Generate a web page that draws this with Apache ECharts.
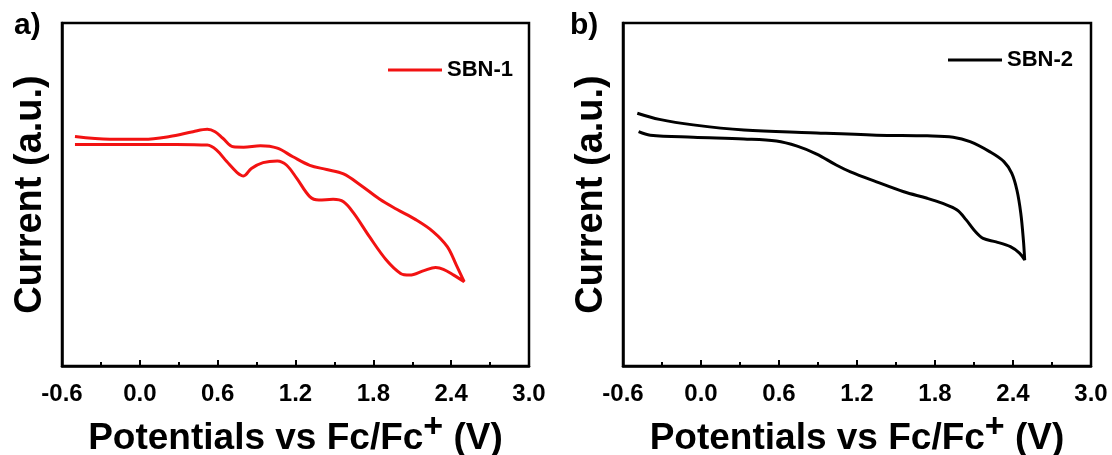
<!DOCTYPE html>
<html>
<head>
<meta charset="utf-8">
<script src="https://cdn.jsdelivr.net/npm/echarts@6/dist/echarts.min.js"></script>
<style>
  html, body { margin: 0; padding: 0; background: #fff; }
  #chart { width: 1112px; height: 455px; }
</style>
</head>
<body>
<div id="chart"></div>
<script>
// Cyclic voltammograms, potential (V vs Fc/Fc+) against current (arbitrary units)
const xTicks = ['-0.6', '0.0', '0.6', '1.2', '1.8', '2.4', '3.0'];
const seriesNames = ['SBN-1', 'SBN-2'];

// SBN-1: forward sweep then return sweep, as one closed trace
const sbn1Potential = [
  -0.50, -0.23, 0.03, 0.23, 0.41, 0.52, 0.58, 0.64, 0.72, 0.80, 0.93, 1.06,
  1.18, 1.31, 1.44, 1.57, 1.70, 1.85, 1.98, 2.13, 2.26, 2.37, 2.44, 2.50,
  2.42, 2.34, 2.28, 2.19, 2.08, 2.01, 1.90, 1.77, 1.65, 1.57, 1.49, 1.38,
  1.31, 1.21, 1.13, 1.06, 0.95, 0.86, 0.80, 0.75, 0.67, 0.59, 0.52, 0.28,
  -0.10, -0.50
];
const sbn1Current = [
  66.9, 66.1, 66.1, 66.9, 68.3, 69.0, 68.3, 66.4, 63.9, 63.8, 64.2, 63.5,
  61.0, 58.5, 57.3, 56.0, 52.8, 48.6, 45.7, 42.6, 39.2, 34.8, 29.4, 24.6,
  26.5, 28.2, 28.7, 27.8, 26.5, 27.0, 30.9, 37.7, 44.5, 47.9, 48.6, 48.4,
  49.4, 54.7, 58.6, 59.8, 59.3, 57.6, 55.4, 56.4, 59.6, 63.0, 64.4, 64.6,
  64.6, 64.6
];

// SBN-2
const sbn2Potential = [
  -0.49, -0.32, -0.06, 0.33, 0.84, 1.35, 1.74, 1.94, 2.07, 2.22, 2.33, 2.39,
  2.43, 2.46, 2.48, 2.49, 2.45, 2.38, 2.27, 2.17, 2.11, 2.04, 1.97, 1.86,
  1.74, 1.56, 1.35, 1.15, 1.04, 0.89, 0.74, 0.58, 0.33, -0.06, -0.39, -0.48
];
const sbn2Current = [
  73.7, 71.9, 70.3, 68.8, 68.0, 67.3, 67.1, 66.7, 65.4, 62.5, 59.6, 56.2,
  51.3, 44.5, 36.7, 30.9, 32.9, 34.8, 36.2, 37.2, 39.2, 42.6, 45.5, 47.4,
  48.9, 50.8, 53.7, 56.6, 58.6, 61.8, 64.1, 65.6, 66.2, 66.7, 67.3, 68.3
];

const zip = (xs, ys) => xs.map((x, i) => [x, ys[i]]);
const FONT = '"Liberation Sans", Arial, Helvetica, sans-serif';

const chart = echarts.init(document.getElementById('chart'), null, { renderer: 'canvas' });

function xAxisFor(gridIndex) {
  return {
    type: 'value',
    gridIndex: gridIndex,
    min: Number(xTicks[0]),
    max: Number(xTicks[xTicks.length - 1]),
    interval: 0.6,
    name: 'Potentials vs Fc/Fc{sup|+} (V)',
    nameLocation: 'middle',
    nameGap: 35,
    nameTextStyle: {
      fontFamily: FONT, fontSize: 37, fontWeight: 'bold', color: '#000', lineHeight: 56,
      rich: {
        // raised superscript: bottom-aligned box whose text sits above a bottom padding
        sup: { fontFamily: FONT, fontSize: 34, fontWeight: 'bold', color: '#000',
               verticalAlign: 'bottom', padding: [0, 0, 22, 0] }
      }
    },
    axisLine: { show: true, onZero: false, lineStyle: { color: '#000', width: 2.5 } },
    axisTick: { show: true, inside: true, length: 6, lineStyle: { color: '#000', width: 2 } },
    minorTick: { show: true, splitNumber: 2, length: 4, lineStyle: { color: '#000', width: 2 } },
    splitLine: { show: false },
    axisLabel: {
      margin: 16,
      fontFamily: FONT, fontSize: 24, fontWeight: 'bold', color: '#000',
      formatter: v => xTicks[Math.round((v - Number(xTicks[0])) / 0.6)]
    }
  };
}

function yAxisFor(gridIndex) {
  return {
    type: 'value',
    gridIndex: gridIndex,
    min: 0,
    max: 100,
    name: 'Current (a.u.)',
    nameLocation: 'middle',
    nameGap: 11,
    nameTextStyle: { fontFamily: FONT, fontSize: 38, fontWeight: 'bold', color: '#000', lineHeight: 40 },
    axisLine: { show: true, onZero: false, lineStyle: { color: '#000', width: 2.5 } },
    axisTick: { show: false },
    axisLabel: { show: false },
    splitLine: { show: false }
  };
}

const legendText = { fontFamily: FONT, fontSize: 22, fontWeight: 'bold', color: '#000', lineHeight: 24 };
const panelLabel = { fontFamily: FONT, fontSize: 30, fontWeight: 'bold', color: '#000' };

chart.setOption({
  animation: false,
  backgroundColor: '#fff',
  title: [
    { text: 'a)', left: 14, top: 11, padding: 0, textStyle: panelLabel },
    { text: 'b)', left: 570, top: 11, padding: 0, textStyle: panelLabel }
  ],
  grid: [
    { left: 62, right: 583, top: 23, bottom: 89, show: true, borderColor: '#000', borderWidth: 2.5,
      containLabel: false, outerBoundsMode: 'none' },
    { left: 623, right: 21, top: 23, bottom: 89, show: true, borderColor: '#000', borderWidth: 2.5,
      containLabel: false, outerBoundsMode: 'none' }
  ],
  legend: [
    { data: [seriesNames[0]], left: 388, top: 58, padding: 0, icon: 'rect',
      itemWidth: 54, itemHeight: 3, textStyle: legendText },
    { data: [seriesNames[1]], left: 948, top: 48, padding: 0, icon: 'rect',
      itemWidth: 54, itemHeight: 3, textStyle: legendText }
  ],
  xAxis: [xAxisFor(0), xAxisFor(1)],
  yAxis: [yAxisFor(0), yAxisFor(1)],
  series: [
    {
      name: seriesNames[0], type: 'line', xAxisIndex: 0, yAxisIndex: 0,
      data: zip(sbn1Potential, sbn1Current),
      showSymbol: false, smooth: 0.35,
      itemStyle: { color: '#f21212' },
      lineStyle: { color: '#f21212', width: 3 }
    },
    {
      name: seriesNames[1], type: 'line', xAxisIndex: 1, yAxisIndex: 1,
      data: zip(sbn2Potential, sbn2Current),
      showSymbol: false, smooth: 0.35,
      itemStyle: { color: '#000' },
      lineStyle: { color: '#000', width: 3 }
    }
  ]
});
</script>
</body>
</html>
